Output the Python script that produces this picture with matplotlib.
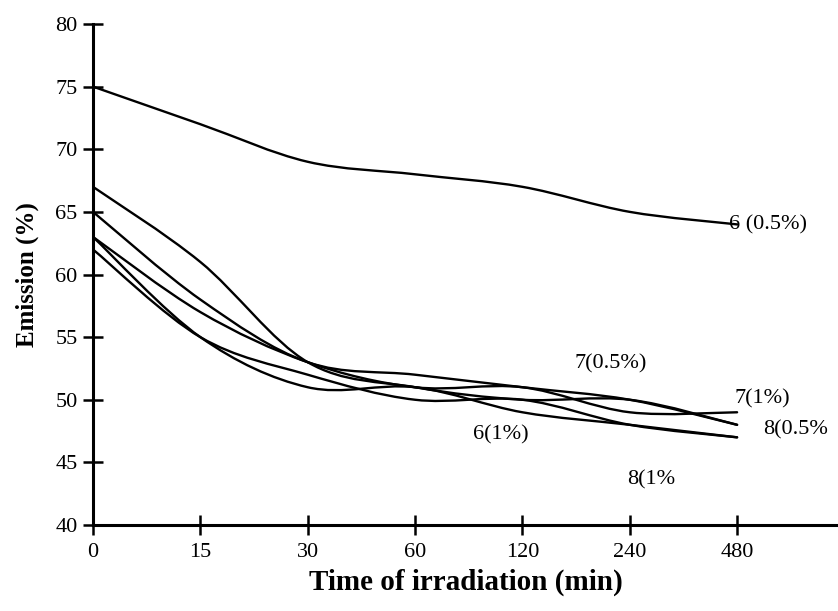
import numpy as np
import matplotlib.pyplot as plt
from matplotlib.path import Path
from matplotlib.patches import PathPatch

# categories on the x axis (equally spaced)
time_labels = ['0', '15', '30', '60', '120', '240', '480']

# emission (%)
em_6_05 = [75, 72, 69, 68, 67, 65, 64]
em_6_1 = [62, 55, 52, 50, 50, 48, 47]
em_7_05 = [65, 58, 53, 52, 51, 50, 48]
em_7_1 = [63, 57, 53, 51, 51, 49, 49]
em_8_05 = [67, 61, 53, 51, 50, 50, 48]
em_8_1 = [63, 55, 51, 51, 49, 48, 47]

series = [em_6_05, em_6_1, em_7_05, em_7_1, em_8_05, em_8_1]

plt.rcParams['font.family'] = ['Liberation Serif', 'DejaVu Serif']


def smooth_path(xs, ys):
    # Excel-like smoothed line: Catmull-Rom segments as cubic Beziers
    pts = np.column_stack([xs, ys]).astype(float)
    n = len(pts)
    verts = [pts[0]]
    codes = [Path.MOVETO]
    for i in range(n - 1):
        p0 = pts[max(i - 1, 0)]
        p1 = pts[i]
        p2 = pts[i + 1]
        p3 = pts[min(i + 2, n - 1)]
        c1 = p1 + (p2 - p0) / 6.0
        c2 = p2 - (p3 - p1) / 6.0
        verts += [c1, c2, p2]
        codes += [Path.CURVE4] * 3
    return Path(verts, codes)


fig = plt.figure(figsize=(8.38, 6.11), dpi=100)
ax = fig.add_axes([93 / 838, 1 - 525 / 611, (838 - 93) / 838, 501 / 611])

x = np.arange(len(time_labels))
for s in series:
    ax.add_patch(PathPatch(smooth_path(x, s), fill=False, edgecolor='black',
                           lw=1.7, capstyle='round', joinstyle='round'))

ax.set_xlim(0, 6.94)
ax.set_ylim(40, 80)
ax.set_xticks(x)
ax.set_xticklabels(time_labels)
ax.set_yticks(np.arange(40, 81, 5))

ax.spines['top'].set_visible(False)
ax.spines['right'].set_visible(False)
ax.spines['left'].set_linewidth(2.2)
ax.spines['bottom'].set_linewidth(2.2)
ax.spines['left'].set_bounds(40, 80)
ax.tick_params(axis='both', direction='inout', length=14, width=1.8,
               labelsize=16, pad=6)
ax.tick_params(axis='y', pad=4)

ax.set_xlabel('Time of irradiation (min)', fontsize=21, fontweight='bold',
              labelpad=5)
ax.set_ylabel('Emission (%)', fontsize=18, fontweight='bold', labelpad=12)

# curve labels
lab_kw = dict(fontsize=16, va='center', ha='left', color='black')
ax.text(5.92, 64.0, '6 (0.5%)', **lab_kw)
ax.text(4.49, 52.9, '7(0.5%)', **lab_kw)
ax.text(5.98, 50.1, '7(1%)', **lab_kw)
ax.text(6.24, 47.6, '8(0.5%', **lab_kw)
ax.text(3.54, 47.2, '6(1%)', **lab_kw)
ax.text(4.98, 43.6, '8(1%', **lab_kw)

fig.savefig('out.png', dpi=100)
